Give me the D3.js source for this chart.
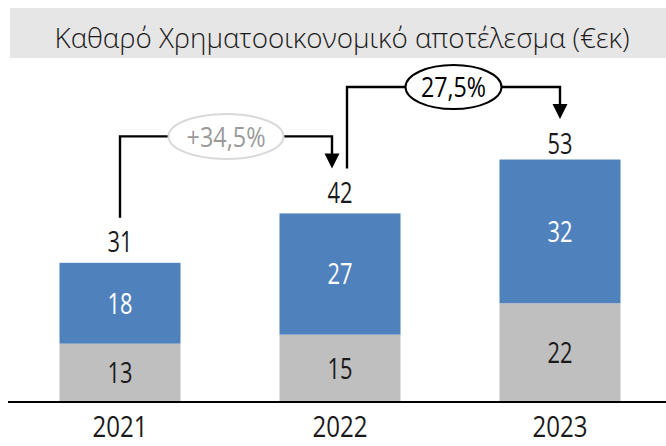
<!DOCTYPE html>
<html lang="el">
<head>
<meta charset="UTF-8" />
<title>Καθαρό Χρηματοοικονομικό αποτέλεσμα</title>
<script src="https://d3js.org/d3.v7.min.js"></script>
<style>
  body { margin: 0; background: #fff; }
  svg { display: block; font-family: "Open Sans", "Noto Sans", sans-serif; }
</style>
</head>
<body>
<script>
// chart values
const years = ["2021", "2022", "2023"];
const lowerVals = [13, 15, 22];   // grey part
const upperVals = [18, 27, 32];   // blue part
const totals = [31, 42, 53];
const growth = ["+34,5%", "27,5%"];

var W = 666, H = 446;
var svg = d3.select("body").append("svg")
  .attr("width", W).attr("height", H);

// narrow digits like the original: squeeze each label to a fixed width per char
function squeeze(sel, perChar) {
  sel.attr("textLength", function () { return this.textContent.length * perChar; })
     .attr("lengthAdjust", "spacingAndGlyphs");
}

// title band
svg.append("rect")
  .attr("x", 10).attr("y", 8)
  .attr("width", W - 10).attr("height", 50)
  .attr("fill", "#e7e6e6");
svg.append("text")
  .attr("x", 342).attr("y", 48)
  .attr("text-anchor", "middle")
  .style("font-size", "28px")
  .style("font-weight", 300)
  .attr("fill", "#1a1a1a")
  .attr("textLength", 575).attr("lengthAdjust", "spacingAndGlyphs")
  .text("Καθαρό Χρηματοοικονομικό αποτέλεσμα (€εκ)");

var x = d3.scaleBand().domain(years).range([10, 670])
  .paddingInner(0.45).paddingOuter(0.225);
var y = d3.scaleLinear().domain([0, 60]).range([402, 402 - 60 * 4.49]);

var rows = years.map((yr, i) => ({ yr: yr, lo: lowerVals[i], up: upperVals[i], tot: totals[i] }));

// grey bottom segment
svg.selectAll(".lo").data(rows).join("rect")
  .attr("class", "lo")
  .attr("x", d => x(d.yr)).attr("width", x.bandwidth())
  .attr("y", d => y(d.lo)).attr("height", d => y(0) - y(d.lo))
  .attr("fill", "#bfbfbf");

// blue top segment
svg.selectAll(".up").data(rows).join("rect")
  .attr("class", "up")
  .attr("x", d => x(d.yr)).attr("width", x.bandwidth())
  .attr("y", d => y(d.lo + d.up)).attr("height", d => y(d.lo) - y(d.lo + d.up))
  .attr("fill", "#4f81bd");

var cx = d => x(d.yr) + x.bandwidth() / 2;

svg.selectAll(".loLab").data(rows).join("text")
  .attr("x", cx).attr("y", d => y(d.lo / 2))
  .attr("dy", "0.36em").attr("text-anchor", "middle")
  .style("font-size", "29px")
  .attr("fill", "#1a1a1a")
  .text(d => d.lo)
  .call(squeeze, 12.5);

svg.selectAll(".upLab").data(rows).join("text")
  .attr("x", cx).attr("y", d => y(d.lo + d.up / 2))
  .attr("dy", "0.36em").attr("text-anchor", "middle")
  .style("font-size", "29px")
  .attr("fill", "#fff")
  .text(d => d.up)
  .call(squeeze, 12.5);

svg.selectAll(".totLab").data(rows).join("text")
  .attr("x", cx).attr("y", d => y(d.tot) - 10.5)
  .style("font-size", "29px")
  .attr("text-anchor", "middle").attr("fill", "#1a1a1a")
  .text(d => d.tot)
  .call(squeeze, 12.5);

// axis
var axis = svg.append("g").attr("transform", "translate(0,402)")
  .call(d3.axisBottom(x).tickSize(0).tickPadding(16));
axis.select(".domain").attr("d", "M8,0H" + W).attr("stroke", "#000").attr("stroke-width", 2);
axis.selectAll(".tick text")
  .attr("y", 35).attr("dy", null)
  .style("font-size", "30px")
  .style("font-family", "'Open Sans', sans-serif")
  .attr("fill", "#1a1a1a")
  .call(squeeze, 13.75);

// growth brackets
var bubble = [
  { stroke: "#d9d9d9", text: "#9a9a9a", rx: 57.5, ry: 22.5, dx0: 0, dx1: -8, w: 79 },
  { stroke: "#000", text: "#000", rx: 48, ry: 22, dx0: 7, dx1: 0, w: 65 }
];

growth.forEach((g, i) => {
  var a = rows[i], b = rows[i + 1], s = bubble[i];
  var x0 = cx(a) + s.dx0;
  var x1 = cx(b) + s.dx1;
  var y0 = y(a.tot) - 45;
  var yt = y(b.tot) - 77;
  var tip = y(b.tot) - 45;
  svg.append("path")
    .attr("d", "M" + x0 + "," + y0 + "V" + yt + "H" + x1 + "V" + (tip - 14))
    .attr("fill", "none").attr("stroke", "#000").attr("stroke-width", 2.4);
  svg.append("path")
    .attr("d", "M" + (x1 - 7.5) + "," + (tip - 15) + "h15l-7.5,15z")
    .attr("fill", "#000");
  var mx = (x0 + x1) / 2;
  svg.append("ellipse")
    .attr("cx", mx).attr("cy", yt)
    .attr("rx", s.rx).attr("ry", s.ry)
    .attr("fill", "#fff").attr("stroke", s.stroke).attr("stroke-width", 2);
  svg.append("text")
    .attr("x", mx).attr("y", yt).attr("dy", "0.36em")
    .attr("text-anchor", "middle")
    .style("font-size", "28px")
    .attr("fill", s.text)
    .attr("textLength", s.w).attr("lengthAdjust", "spacingAndGlyphs")
    .text(g);
});
</script>
</body>
</html>
